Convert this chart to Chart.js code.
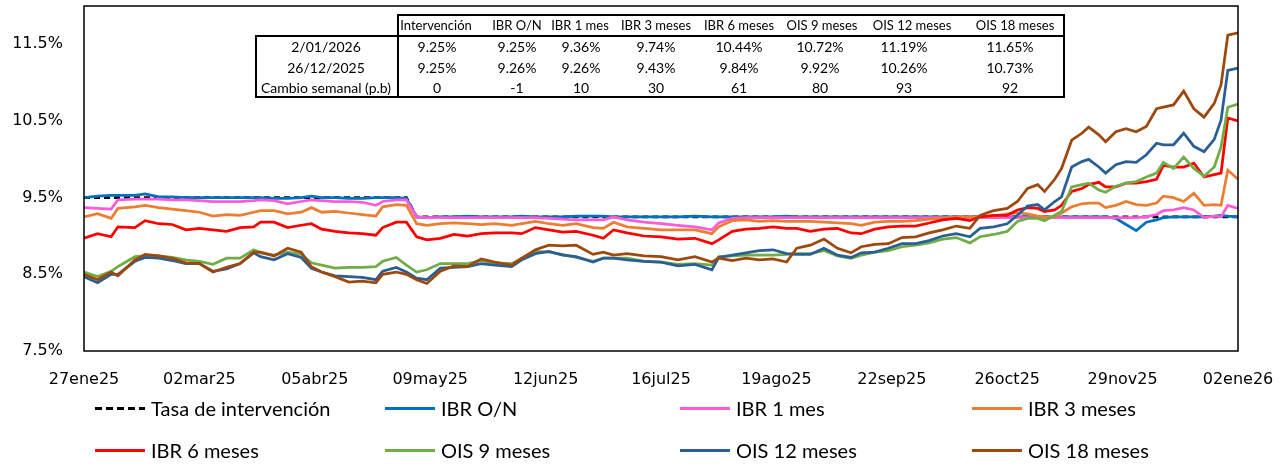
<!DOCTYPE html>
<html lang="es">
<head>
<meta charset="UTF-8">
<title>Tasas IBR y OIS</title>
<script src="https://cdn.jsdelivr.net/npm/chart.js@4.4.1/dist/chart.umd.min.js"></script>
<style>
  html, body { margin: 0; padding: 0; background: #fff; }
  #wrap { position: relative; width: 1286px; height: 464px; overflow: hidden; }
  #chart { position: absolute; left: 0; top: 0; }
  .cell { position: absolute; transform: translate(-50%, -50%); white-space: nowrap;
          font-family: Lato, 'Noto Sans', sans-serif; font-size: 14px; color: #000; }
  .cell.head { font-size: 13px; }
  .rule { position: absolute; background: #000; }
  .leg { position: absolute; display: flex; align-items: center; white-space: nowrap;
         font-family: Lato, 'Noto Sans', sans-serif; font-size: 20px; color: #000; }
  .leg .sw { width: 50px; height: 3px; margin-right: 6px; }
</style>
</head>
<body>
<div id="wrap">
  <canvas id="chart" width="1286" height="464"></canvas>
  <div id="tabla"></div>
  <div id="leyenda"></div>
</div>
<script>
// fechas de la serie (diaria muestreada)
var dates = ['2025-01-27','2025-01-31','2025-02-04','2025-02-06','2025-02-11','2025-02-14','2025-02-18','2025-02-22','2025-02-26','2025-03-02',
  '2025-03-06','2025-03-10','2025-03-14','2025-03-18','2025-03-20','2025-03-24','2025-03-28','2025-04-01','2025-04-04','2025-04-07',
  '2025-04-11','2025-04-15','2025-04-19','2025-04-23','2025-04-25','2025-04-29','2025-05-02','2025-05-05','2025-05-08','2025-05-12',
  '2025-05-16','2025-05-20','2025-05-24','2025-05-28','2025-06-02','2025-06-05','2025-06-09','2025-06-13','2025-06-17','2025-06-21',
  '2025-06-26','2025-06-29','2025-07-02','2025-07-06','2025-07-11','2025-07-16','2025-07-21','2025-07-26','2025-07-31','2025-08-02',
  '2025-08-06','2025-08-10','2025-08-14','2025-08-18','2025-08-22','2025-08-25','2025-08-29','2025-09-02','2025-09-06','2025-09-10',
  '2025-09-13','2025-09-17','2025-09-21','2025-09-25','2025-09-29','2025-10-03','2025-10-07','2025-10-11','2025-10-15','2025-10-18',
  '2025-10-22','2025-10-26','2025-10-29','2025-11-01','2025-11-04','2025-11-06','2025-11-09','2025-11-11','2025-11-14','2025-11-17',
  '2025-11-19','2025-11-22','2025-11-24','2025-11-27','2025-11-30','2025-12-03','2025-12-06','2025-12-09','2025-12-11','2025-12-14',
  '2025-12-17','2025-12-20','2025-12-23','2025-12-26','2025-12-28','2025-12-30','2026-01-02'];

var tasaIntervencion = [9.5,9.5,9.5,9.5,9.5,9.5,9.5,9.5,9.5,9.5,
  9.5,9.5,9.5,9.5,9.5,9.5,9.5,9.5,9.5,9.5,
  9.5,9.5,9.5,9.5,9.5,9.5,9.5,9.25,9.25,9.25,
  9.25,9.25,9.25,9.25,9.25,9.25,9.25,9.25,9.25,9.25,
  9.25,9.25,9.25,9.25,9.25,9.25,9.25,9.25,9.25,9.25,
  9.25,9.25,9.25,9.25,9.25,9.25,9.25,9.25,9.25,9.25,
  9.25,9.25,9.25,9.25,9.25,9.25,9.25,9.25,9.25,9.25,
  9.25,9.25,9.25,9.25,9.25,9.25,9.25,9.25,9.25,9.25,
  9.25,9.25,9.25,9.25,9.25,9.25,9.25,9.25,9.25,9.25,
  9.25,9.25,9.25,9.25,9.25,9.25,9.25];

var ibrON = [9.50,9.52,9.53,9.53,9.53,9.55,9.51,9.51,9.50,9.50,
  9.50,9.50,9.50,9.50,9.50,9.49,9.49,9.50,9.52,9.50,
  9.50,9.49,9.49,9.50,9.50,9.50,9.49,9.25,9.24,9.25,
  9.25,9.26,9.25,9.25,9.25,9.26,9.25,9.25,9.25,9.26,
  9.26,9.26,9.25,9.25,9.25,9.25,9.25,9.26,9.25,9.25,
  9.25,9.25,9.25,9.25,9.26,9.25,9.25,9.25,9.25,9.25,
  9.25,9.25,9.25,9.25,9.25,9.25,9.25,9.25,9.25,9.25,
  9.25,9.25,9.25,9.25,9.25,9.25,9.25,9.25,9.25,9.25,
  9.25,9.25,9.25,9.23,9.15,9.07,9.18,9.21,9.24,9.25,
  9.25,9.25,9.25,9.26,9.27,9.26,9.25];

var ibr1m = [9.37,9.36,9.35,9.47,9.48,9.48,9.48,9.47,9.47,9.46,
  9.45,9.45,9.45,9.46,9.47,9.46,9.42,9.45,9.47,9.46,
  9.45,9.45,9.44,9.40,9.45,9.47,9.47,9.25,9.24,9.24,
  9.24,9.24,9.24,9.24,9.24,9.24,9.24,9.23,9.22,9.21,
  9.21,9.21,9.25,9.21,9.18,9.16,9.14,9.12,9.08,9.17,
  9.23,9.24,9.24,9.24,9.24,9.24,9.24,9.24,9.24,9.24,
  9.24,9.24,9.24,9.24,9.24,9.24,9.24,9.24,9.24,9.24,
  9.24,9.24,9.24,9.24,9.24,9.24,9.24,9.24,9.24,9.24,
  9.24,9.24,9.24,9.24,9.24,9.24,9.25,9.28,9.33,9.34,
  9.37,9.34,9.24,9.26,9.25,9.40,9.36];

var ibr3m = [9.25,9.29,9.23,9.36,9.38,9.40,9.37,9.35,9.33,9.31,
  9.26,9.28,9.27,9.31,9.33,9.33,9.29,9.31,9.37,9.31,
  9.32,9.30,9.28,9.26,9.38,9.41,9.40,9.16,9.14,9.16,
  9.17,9.16,9.15,9.16,9.14,9.16,9.19,9.16,9.14,9.16,
  9.11,9.10,9.18,9.12,9.10,9.08,9.08,9.08,9.03,9.12,
  9.20,9.21,9.19,9.20,9.19,9.19,9.19,9.18,9.17,9.16,
  9.14,9.18,9.19,9.19,9.20,9.22,9.23,9.25,9.25,9.25,
  9.26,9.29,9.30,9.29,9.26,9.25,9.25,9.30,9.38,9.42,
  9.43,9.43,9.37,9.40,9.45,9.41,9.40,9.43,9.52,9.50,
  9.45,9.56,9.40,9.41,9.40,9.86,9.74];

var ibr6m = [8.97,9.03,8.99,9.12,9.11,9.20,9.16,9.15,9.08,9.10,
  9.08,9.06,9.11,9.12,9.18,9.18,9.11,9.14,9.16,9.09,
  9.06,9.04,9.03,9.01,9.11,9.18,9.18,8.99,8.95,8.97,
  9.02,9.00,9.03,9.04,9.04,9.03,9.11,9.08,9.05,9.06,
  9.01,8.97,9.08,9.04,9.00,8.99,8.96,8.97,8.90,8.95,
  9.06,9.09,9.10,9.12,9.10,9.10,9.06,9.09,9.10,9.04,
  9.03,9.09,9.12,9.13,9.13,9.17,9.21,9.23,9.20,9.25,
  9.27,9.27,9.34,9.37,9.36,9.32,9.34,9.40,9.58,9.62,
  9.67,9.70,9.64,9.64,9.69,9.69,9.71,9.74,9.92,9.90,
  9.90,9.95,9.77,9.80,9.82,10.54,10.50];

var ois9m = [8.53,8.47,8.54,8.60,8.73,8.74,8.74,8.72,8.69,8.67,
  8.63,8.71,8.71,8.82,8.78,8.75,8.79,8.76,8.65,8.62,
  8.58,8.59,8.59,8.60,8.67,8.72,8.62,8.53,8.56,8.64,
  8.64,8.64,8.68,8.65,8.64,8.71,8.80,8.79,8.76,8.72,
  8.67,8.71,8.71,8.71,8.67,8.66,8.63,8.64,8.62,8.73,
  8.74,8.75,8.75,8.75,8.76,8.77,8.77,8.81,8.74,8.71,
  8.75,8.79,8.81,8.86,8.88,8.91,8.96,8.98,8.91,8.99,
  9.02,9.06,9.19,9.23,9.23,9.20,9.27,9.32,9.64,9.67,
  9.69,9.60,9.57,9.65,9.69,9.71,9.77,9.82,9.96,9.88,
  10.03,9.88,9.78,9.90,10.16,10.68,10.72];

var ois12m = [8.47,8.39,8.50,8.50,8.67,8.72,8.71,8.68,8.64,8.64,
  8.54,8.57,8.64,8.78,8.73,8.69,8.77,8.72,8.58,8.53,
  8.48,8.47,8.46,8.43,8.54,8.59,8.53,8.45,8.43,8.58,
  8.59,8.60,8.64,8.62,8.60,8.69,8.77,8.80,8.75,8.73,
  8.66,8.71,8.71,8.69,8.67,8.66,8.61,8.63,8.56,8.72,
  8.75,8.78,8.81,8.82,8.77,8.76,8.76,8.84,8.75,8.72,
  8.78,8.79,8.84,8.90,8.90,8.94,9.00,9.03,8.99,9.10,
  9.12,9.16,9.27,9.39,9.41,9.34,9.45,9.51,9.90,9.97,
  10.00,9.90,9.82,9.93,9.97,9.96,10.06,10.21,10.19,10.19,
  10.34,10.17,10.10,10.26,10.51,11.16,11.19];

var ois18m = [8.50,8.43,8.53,8.48,8.69,8.76,8.74,8.71,8.65,8.64,
  8.53,8.59,8.64,8.79,8.79,8.74,8.84,8.79,8.60,8.53,
  8.47,8.40,8.41,8.39,8.50,8.53,8.50,8.43,8.38,8.54,
  8.61,8.60,8.70,8.66,8.62,8.71,8.82,8.88,8.87,8.88,
  8.76,8.79,8.75,8.77,8.74,8.73,8.69,8.73,8.66,8.71,
  8.68,8.71,8.69,8.70,8.66,8.84,8.88,8.96,8.84,8.78,
  8.86,8.89,8.90,8.98,8.99,9.04,9.08,9.13,9.10,9.27,
  9.33,9.36,9.45,9.62,9.67,9.58,9.74,9.88,10.25,10.34,
  10.42,10.32,10.23,10.36,10.40,10.36,10.43,10.66,10.68,10.71,
  10.89,10.66,10.55,10.73,10.97,11.62,11.65];

var seriesNames = ['Tasa de intervención', 'IBR O/N', 'IBR 1 mes', 'IBR 3 meses',
  'IBR 6 meses', 'OIS 9 meses', 'OIS 12 meses', 'OIS 18 meses'];
var seriesValues = [tasaIntervencion, ibrON, ibr1m, ibr3m, ibr6m, ois9m, ois12m, ois18m];
var seriesColors = ['#000000', '#0070C0', '#FF5BD6', '#ED7D31', '#FF0000', '#70AD47', '#2A5F95', '#9E480E'];

var xTickDates = ['2025-01-27','2025-03-02','2025-04-05','2025-05-09','2025-06-12','2025-07-16',
  '2025-08-19','2025-09-22','2025-10-26','2025-11-29','2026-01-02'];
var xTickLabels = ['27ene25','02mar25','05abr25','09may25','12jun25','16jul25',
  '19ago25','22sep25','26oct25','29nov25','02ene26'];
var yTicks = [7.5, 8.5, 9.5, 10.5, 11.5];
var yMin = 7.5, yMax = 12.0;

// tabla resumen
var tableHeaders = ['Intervención', 'IBR O/N', 'IBR 1 mes', 'IBR 3 meses', 'IBR 6 meses', 'OIS 9 meses', 'OIS 12 meses', 'OIS 18 meses'];
var rowLabels = ['2/01/2026', '26/12/2025', 'Cambio semanal (p.b)'];
var rateLatest = [9.25, 9.25, 9.36, 9.74, 10.44, 10.72, 11.19, 11.65];
var ratePrev = [9.25, 9.26, 9.26, 9.43, 9.84, 9.92, 10.26, 10.73];
var weeklyChange = [0, -1, 10, 30, 61, 80, 93, 92];

function dayOf(d) {
  return Math.round((Date.parse(d) - Date.parse(dates[0])) / 86400000);
}

var datasets = seriesValues.map(function (vals, i) {
  return {
    label: seriesNames[i],
    data: vals.map(function (v, j) { return { x: dayOf(dates[j]), y: v }; }),
    borderColor: seriesColors[i],
    borderWidth: 2.75,
    borderDash: i === 0 ? [6, 4] : [],
    pointRadius: 0,
    tension: 0,
    order: seriesValues.length - i
  };
});

var framePlugin = {
  id: 'frame',
  afterDatasetsDraw: function (chart) {
    var a = chart.chartArea, c = chart.ctx;
    c.save();
    c.strokeStyle = '#000';
    c.lineWidth = 1.5;
    c.strokeRect(a.left, a.top, a.right - a.left, a.bottom - a.top);
    c.restore();
  }
};

var tickFont = { family: "'DejaVu Sans', Verdana, sans-serif", size: 16 };

new Chart(document.getElementById('chart'), {
  type: 'line',
  data: { datasets: datasets },
  options: {
    responsive: false,
    animation: false,
    layout: { padding: { left: 0, right: 48, top: 6, bottom: 73 } },
    plugins: { legend: { display: false }, tooltip: { enabled: false } },
    scales: {
      x: {
        type: 'linear',
        min: 0,
        max: dayOf(dates[dates.length - 1]),
        grid: { display: false, drawTicks: false },
        border: { display: false },
        afterBuildTicks: function (s) {
          s.ticks = xTickDates.map(function (d) { return { value: dayOf(d) }; });
        },
        afterFit: function (s) {
          s.height = 40;
          s.paddingLeft = 0; s.paddingRight = 0;
        },
        ticks: {
          padding: 19, maxRotation: 0, autoSkip: false, color: '#000', font: tickFont,
          callback: function (v, i) { return xTickLabels[i]; }
        }
      },
      y: {
        min: yMin,
        max: yMax,
        grid: { display: false, drawTicks: false },
        border: { display: false },
        afterBuildTicks: function (s) {
          s.ticks = yTicks.map(function (v) { return { value: v }; });
        },
        afterFit: function (s) {
          s.width = 84;
          s.paddingTop = 0; s.paddingBottom = 0;
        },
        ticks: {
          padding: 21, color: '#000', font: tickFont,
          callback: function (v) { return v.toFixed(1) + '%'; }
        }
      }
    }
  },
  plugins: [framePlugin]
});

// tabla (texto real)
var tabla = document.getElementById('tabla');
var headCenters = [436, 517, 580, 656, 739, 822, 912, 1015];
var colCenters = [437, 517, 581, 656, 739, 820, 904, 1010];
var labelCenter = 326;
var rowCenters = [25, 46, 67, 87];

function addCell(text, x, y, cls) {
  var d = document.createElement('div');
  d.className = 'cell' + (cls ? ' ' + cls : '');
  d.textContent = text;
  d.style.left = x + 'px';
  d.style.top = y + 'px';
  tabla.appendChild(d);
}
function addRule(x, y, w, h) {
  var d = document.createElement('div');
  d.className = 'rule';
  d.style.left = x + 'px';
  d.style.top = y + 'px';
  d.style.width = w + 'px';
  d.style.height = h + 'px';
  tabla.appendChild(d);
}

tableHeaders.forEach(function (h, i) { addCell(h, headCenters[i], rowCenters[0], 'head'); });
var rows = [
  rateLatest.map(function (v) { return v.toFixed(2) + '%'; }),
  ratePrev.map(function (v) { return v.toFixed(2) + '%'; }),
  weeklyChange.map(function (v) { return String(v); })
];
rows.forEach(function (r, k) {
  addCell(rowLabels[k], labelCenter, rowCenters[k + 1]);
  r.forEach(function (t, i) { addCell(t, colCenters[i], rowCenters[k + 1]); });
});
addRule(397, 14, 668, 2);
addRule(255, 35, 810, 2);
addRule(255, 96, 810, 2);
addRule(255, 35, 2, 63);
addRule(397, 14, 2, 84);
addRule(1063, 14, 2, 84);

// leyenda
var leyenda = document.getElementById('leyenda');
var legCols = [95, 385, 680, 972];
var legRows = [409, 451];
seriesNames.forEach(function (name, i) {
  var item = document.createElement('div');
  item.className = 'leg';
  item.style.left = legCols[i % 4] + 'px';
  item.style.top = (legRows[Math.floor(i / 4)] - 13) + 'px';
  var sw = document.createElement('span');
  sw.className = 'sw';
  if (i === 0) {
    sw.style.background = 'repeating-linear-gradient(90deg, #000 0 7px, transparent 7px 11px)';
  } else {
    sw.style.background = seriesColors[i];
  }
  var tx = document.createElement('span');
  tx.textContent = name;
  item.appendChild(sw);
  item.appendChild(tx);
  leyenda.appendChild(item);
});
</script>
</body>
</html>
